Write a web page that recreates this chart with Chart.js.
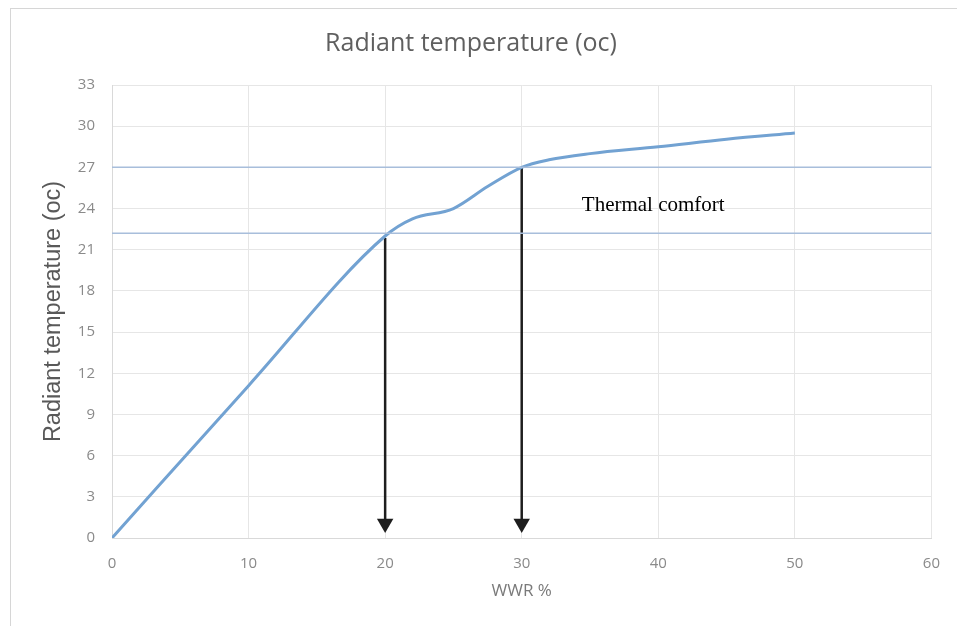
<!DOCTYPE html>
<html>
<head>
<meta charset="utf-8">
<title>Radiant temperature</title>
<script src="https://cdn.jsdelivr.net/npm/chart.js@4.4.1/dist/chart.umd.min.js"></script>
<style>
    html, body { margin: 0; padding: 0; background: #fff; }
    #wrap { position: relative; width: 957px; height: 626px; }
    #frame {
        position: absolute; left: 10px; top: 8px; right: 0; bottom: 0;
        border-left: 1px solid #d6d6d6; border-top: 1px solid #d6d6d6;
    }
    canvas { position: absolute; left: 0; top: 0; }
</style>
</head>
<body>
<div id="wrap">
    <div id="frame"></div>
    <canvas id="radChart" width="957" height="626"></canvas>
</div>
<script>
// values
const wwr = [0, 10, 20, 22, 25, 27.5, 30, 32, 35, 40, 45, 50];
const radiantTemp = [0, 11.1, 22, 23.25, 24, 25.6, 27, 27.55, 28, 28.5, 29.05, 29.5];

// thermal comfort band limits (horizontal lines)
const comfortLimits = [22.2, 27];
const comfortSpan = [0, 60];

// arrows dropped from the curve to the x axis
const arrowX = [20, 30];
const arrowTop = [21.85, 27];
const arrowHeadY = 1.05;

const xTicks = [0, 10, 20, 30, 40, 50, 60];
const yTicks = [0, 3, 6, 9, 12, 15, 18, 21, 24, 27, 30, 33];

const comfortLabel = 'Thermal comfort';
const comfortLabelAt = { x: 34.4, y: 24.25 };

const curveData = wwr.map((x, i) => ({ x: x, y: radiantTemp[i] }));

const datasets = [];

// comfort limit lines
comfortLimits.forEach((y) => {
    datasets.push({
        data: comfortSpan.map((x) => ({ x: x, y: y })),
        borderColor: '#a8bedb',
        borderWidth: 1.5,
        pointRadius: 0,
        tension: 0
    });
});

// main curve
datasets.push({
    label: 'Radiant temperature (oc)',
    data: curveData,
    borderColor: '#72a2d2',
    borderWidth: 3,
    pointRadius: 0,
    cubicInterpolationMode: 'monotone'
});

// arrows
arrowX.forEach((x, i) => {
    datasets.push({
        data: [{ x: x, y: arrowTop[i] }, { x: x, y: arrowHeadY }],
        borderColor: '#1e1e1e',
        backgroundColor: '#1e1e1e',
        borderWidth: 2.5,
        pointStyle: 'triangle',
        pointRotation: 180,
        pointRadius: [0, 9.5],
        pointBorderWidth: 0,
        pointBackgroundColor: '#1e1e1e',
        tension: 0
    });
});

// text label placed in data coordinates
const comfortTextPlugin = {
    id: 'comfortText',
    afterDatasetsDraw(chart) {
        const { ctx, scales } = chart;
        const px = scales.x.getPixelForValue(comfortLabelAt.x);
        const py = scales.y.getPixelForValue(comfortLabelAt.y);
        ctx.save();
        ctx.font = '21px "Liberation Serif", "Times New Roman", serif';
        ctx.fillStyle = '#000';
        ctx.textAlign = 'left';
        ctx.textBaseline = 'middle';
        ctx.fillText(comfortLabel, px, py);
        ctx.restore();
    }
};

const tickFont = { family: '"Open Sans", sans-serif', size: 15 };

new Chart(document.getElementById('radChart'), {
    type: 'line',
    data: { datasets: datasets },
    plugins: [comfortTextPlugin],
    options: {
        responsive: false,
        animation: false,
        layout: { padding: { left: 10, top: 8, right: 25, bottom: 0 } },
        plugins: {
            legend: { display: false },
            tooltip: { enabled: false },
            title: {
                display: true,
                text: 'Radiant temperature (oc)',
                color: '#5f5f5f',
                font: { family: '"Open Sans", sans-serif', size: 25, weight: 'normal' },
                padding: { top: 21, bottom: 26 }
            }
        },
        scales: {
            x: {
                type: 'linear',
                min: 0,
                max: 60,
                afterBuildTicks: (scale) => { scale.ticks = xTicks.map((v) => ({ value: v })); },
                afterFit: (scale) => { scale.height = 88; },
                grid: { color: '#e6e6e6', drawTicks: false },
                border: { color: '#d9d9d9' },
                ticks: { color: '#8a8a8a', font: tickFont, padding: 17 },
                title: {
                    display: true,
                    text: 'WWR %',
                    color: '#7a7a7a',
                    font: { family: '"Open Sans", sans-serif', size: 17 },
                    padding: { bottom: 25 }
                }
            },
            y: {
                type: 'linear',
                min: 0,
                max: 33,
                afterBuildTicks: (scale) => { scale.ticks = yTicks.map((v) => ({ value: v })); },
                afterFit: (scale) => { scale.width = 102; },
                grid: { color: '#e6e6e6', drawTicks: false },
                border: { color: '#d9d9d9' },
                ticks: { color: '#8a8a8a', font: tickFont, padding: 17 },
                title: {
                    display: true,
                    text: 'Radiant temperature (oc)',
                    color: '#595959',
                    font: { family: '"Liberation Sans", Arial, sans-serif', size: 23.5 },
                    padding: { top: 29 }
                }
            }
        }
    }
});
</script>
</body>
</html>
